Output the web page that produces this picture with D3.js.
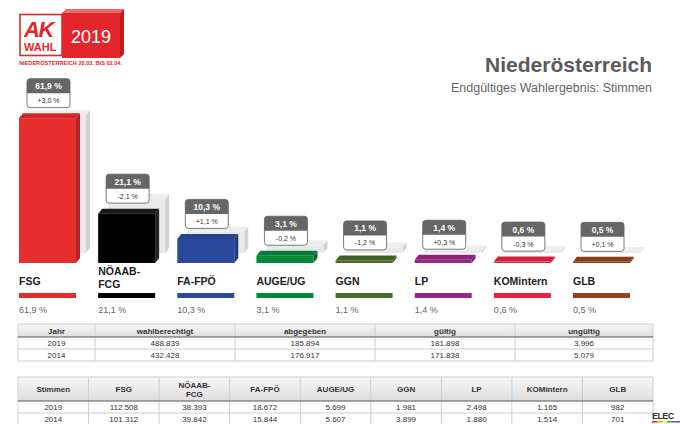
<!DOCTYPE html>
<html>
<head>
<meta charset="utf-8">
<script src="https://cdn.jsdelivr.net/npm/d3@7/dist/d3.min.js"></script>
<style>
body{margin:0;background:#fff;}
svg{display:block;font-family:"Liberation Sans",Arial,sans-serif;}
</style>
</head>
<body>
<div id="chart"></div>
<script>
const parties = ["FSG", "NÖAAB-FCG", "FA-FPÖ", "AUGE/UG", "GGN", "LP", "KOMintern", "GLB"];
const labelLines = [["FSG"], ["NÖAAB-", "FCG"], ["FA-FPÖ"], ["AUGE/UG"], ["GGN"], ["LP"], ["KOMintern"], ["GLB"]];
const share2019 = [61.9, 21.1, 10.3, 3.1, 1.1, 1.4, 0.6, 0.5];
const share2014 = [58.9, 23.2, 9.2, 3.3, 2.3, 1.1, 0.9, 0.4];
const change = [3.0, -2.1, 1.1, -0.2, -1.2, 0.3, -0.3, 0.1];
const partyColors = ["#e52d2d", "#000000", "#2b4a9b", "#00893b", "#4a6b2a", "#9b2584", "#e8233f", "#99421a"];

const years = ["2019", "2014"];
const wahlberechtigt = [488839, 432428];
const abgegeben = [185894, 176917];
const gueltig = [181898, 171838];
const ungueltig = [3996, 5079];

const votes2019 = [112508, 38393, 18672, 5699, 1981, 2498, 1165, 982];
const votes2014 = [101312, 39842, 15844, 5607, 3899, 1880, 1514, 701];

const width = 680, height = 424;
const ground = 263, dx = 4, dy = 5, ghost = 10;

const loc = d3.formatLocale({decimal: ",", thousands: ".", grouping: [3], currency: ["", " €"], minus: "-"});
const pct = loc.format(".1f");
const sgn = loc.format("+.1f");
const num = loc.format(",d");

const svg = d3.select("#chart")
  .append("svg")
  .attr("width", width)
  .attr("height", height);

// logo
const logo = svg.append("g");
logo.append("polygon").attr("points", "62,13 66,9 124,9 120,13").attr("fill", "#ee6a6a");
logo.append("polygon").attr("points", "120,13 124,9 124,54 120,58").attr("fill", "#c8181d");
logo.append("rect").attr("x", 62).attr("y", 13).attr("width", 58).attr("height", 45).attr("fill", "#e3262b");
logo.append("rect").attr("x", 20).attr("y", 14.5).attr("width", 42).attr("height", 41)
  .attr("fill", "#fff").attr("stroke", "#e3262b").attr("stroke-width", 1.6);
logo.append("text").attr("x", 24).attr("y", 37).attr("fill", "#e3262b")
  .attr("font-size", 22).attr("font-weight", "bold").attr("font-style", "italic")
  .attr("letter-spacing", -1.5).text("AK");
logo.append("text").attr("x", 24).attr("y", 51).attr("fill", "#e3262b")
  .attr("font-size", 11).attr("font-weight", "bold").text("WAHL");
logo.append("text").attr("x", 91).attr("y", 43).attr("fill", "#fff").attr("text-anchor", "middle")
  .attr("font-size", 18).text("2019");
logo.append("text").attr("x", 19).attr("y", 65).attr("fill", "#e3262b")
  .attr("font-size", 4.6).attr("font-weight", "bold")
  .attr("textLength", 103).attr("lengthAdjust", "spacingAndGlyphs")
  .text("NIEDERÖSTERREICH 20.03. BIS 02.04.");

svg.append("text").attr("x", 652).attr("y", 72).attr("text-anchor", "end")
  .attr("font-size", 21).attr("font-weight", "bold").attr("fill", "#5a5a5a").text("Niederösterreich");
svg.append("text").attr("x", 652).attr("y", 92).attr("text-anchor", "end")
  .attr("font-size", 12.5).attr("fill", "#666").text("Endgültiges Wahlergebnis: Stimmen");

const x = d3.scaleBand(parties, [19, 630]).paddingInner(0.28);
const y = d3.scaleLinear([0, 100], [0, 234]);
const color = d3.scaleOrdinal(parties, partyColors);
const w = x.bandwidth();

function prism(g, x0, base, h, front, top, side) {
  const t = base - h;
  g.append("polygon")
    .attr("points", [[x0 + w, t], [x0 + w + dx, t - dy], [x0 + w + dx, base - dy], [x0 + w, base]].join(" "))
    .attr("fill", side);
  g.append("polygon")
    .attr("points", [[x0, t], [x0 + dx, t - dy], [x0 + w + dx, t - dy], [x0 + w, t]].join(" "))
    .attr("fill", top);
  g.append("rect")
    .attr("x", x0).attr("y", t)
    .attr("width", w).attr("height", h)
    .attr("fill", front);
}

const bars = svg.append("g");
parties.forEach((p, i) => {
  const g = bars.append("g");
  prism(g, x(p) + ghost, ground - ghost, y(share2014[i]), "#e9e9e9", "#eeeeee", "#d2d2d2");
  const c = d3.color(color(p));
  prism(g, x(p), ground, y(share2019[i]), c.formatHex(),
    p === "NÖAAB-FCG" ? "#1a1a1a" : c.darker(0.25).formatHex(),
    p === "NÖAAB-FCG" ? "#222" : c.darker(0.7).formatHex());
});

// value boxes
const bw = 44, bh = 30;
const boxes = svg.append("g")
  .selectAll("g")
  .data(parties)
  .join("g")
  .attr("transform", (d, i) => `translate(${x(d) + w / 2 - bw / 2 + 1},${ground - y(share2019[i]) - 10 - bh})`);

boxes.append("rect")
  .attr("x", 0.5).attr("y", 0.5)
  .attr("width", bw - 1).attr("height", bh - 1)
  .attr("rx", 3)
  .attr("fill", "#fff")
  .attr("stroke", "#7a7a7a");

boxes.append("path")
  .attr("d", `M0.5,15 V3.5 Q0.5,0.5 3.5,0.5 H${bw - 3.5} Q${bw - 0.5},0.5 ${bw - 0.5},3.5 V15 Z`)
  .attr("fill", "#666");

boxes.append("text")
  .attr("x", bw / 2).attr("y", 11)
  .attr("text-anchor", "middle")
  .attr("font-size", 8.5).attr("font-weight", "bold")
  .attr("fill", "#fff")
  .text((d, i) => pct(share2019[i]) + " %");

boxes.append("text")
  .attr("x", bw / 2).attr("y", 25)
  .attr("text-anchor", "middle")
  .attr("font-size", 7)
  .attr("fill", "#333")
  .text((d, i) => sgn(change[i]) + " %");

// legend row
const legend = svg.append("g")
  .selectAll("g")
  .data(parties)
  .join("g")
  .attr("transform", d => `translate(${x(d)},0)`);

legend.append("text")
  .attr("font-size", 10.5).attr("font-weight", "bold").attr("fill", "#222")
  .selectAll("tspan")
  .data((d, i) => labelLines[i])
  .join("tspan")
  .attr("x", 0)
  .attr("y", (d, j, n) => n.length > 1 ? 275 + j * 13 : 285)
  .text(d => d);

legend.append("rect")
  .attr("y", 293).attr("width", w).attr("height", 5)
  .attr("fill", d => color(d));

legend.append("text")
  .attr("y", 313)
  .attr("font-size", 9).attr("fill", "#666")
  .text((d, i) => pct(share2019[i]) + " %");

// tables
const defs = svg.append("defs");
const grad = defs.append("linearGradient").attr("id", "hd").attr("x1", 0).attr("x2", 0).attr("y1", 0).attr("y2", 1);
grad.append("stop").attr("offset", 0).attr("stop-color", "#f7f7f7");
grad.append("stop").attr("offset", 1).attr("stop-color", "#dedede");

function table(edges, top, headH, rowH, header, rows) {
  const g = svg.append("g").attr("font-size", 8).attr("fill", "#333");
  const x0 = edges[0], x1 = edges[edges.length - 1];
  const bottom = top + headH + rowH * rows.length;
  g.append("rect").attr("x", x0).attr("y", top).attr("width", x1 - x0).attr("height", headH).attr("fill", "url(#hd)");
  edges.forEach(e => g.append("line").attr("x1", e).attr("x2", e).attr("y1", top).attr("y2", bottom).attr("stroke", "#cfcfcf"));
  [top, ...rows.map((r, i) => top + headH + rowH * (i + 1))].forEach(v =>
    g.append("line").attr("x1", x0).attr("x2", x1).attr("y1", v).attr("y2", v).attr("stroke", "#cfcfcf"));
  g.append("line").attr("x1", x0).attr("x2", x1).attr("y1", top + headH).attr("y2", top + headH).attr("stroke", "#555");
  header.forEach((h, j) => {
    const cx = (edges[j] + edges[j + 1]) / 2;
    const lines = Array.isArray(h) ? h : [h];
    lines.forEach((l, k) => g.append("text")
      .attr("x", cx)
      .attr("y", top + headH / 2 + 3 + (k - (lines.length - 1) / 2) * 9)
      .attr("text-anchor", "middle").attr("font-weight", "bold").text(l));
  });
  rows.forEach((r, i) => r.forEach((v, j) => g.append("text")
    .attr("x", (edges[j] + edges[j + 1]) / 2)
    .attr("y", top + headH + rowH * i + rowH / 2 + 3)
    .attr("text-anchor", "middle")
    .text(typeof v === "number" ? num(v) : v)));
}

table([18, 95, 235, 375, 515, 653], 324, 13, 12,
  ["Jahr", "wahlberechtigt", "abgegeben", "gültig", "ungültig"],
  years.map((yr, i) => [yr, wahlberechtigt[i], abgegeben[i], gueltig[i], ungueltig[i]]));

const cols = d3.scaleBand(["Stimmen", ...parties], [18, 653]);
table([...cols.domain().map(d => cols(d)), 653], 377, 24, 12,
  ["Stimmen", ...labelLines.map(l => l.length > 1 ? l : l[0])],
  [[years[0], ...votes2019], [years[1], ...votes2014]]);

// corner logo
svg.append("text").attr("x", 652).attr("y", 419)
  .attr("font-size", 9).attr("font-weight", "bold").attr("fill", "#333")
  .attr("letter-spacing", -0.6).text("ELEC");
["#e52d2d", "#f0a020", "#f5e23a", "#3aa845", "#2b6fc0", "#8a3aa8"].forEach((c, i) =>
  svg.append("rect").attr("x", 652 + i * 5).attr("y", 421).attr("width", 5).attr("height", 1.5).attr("fill", c));
</script>
</body>
</html>
